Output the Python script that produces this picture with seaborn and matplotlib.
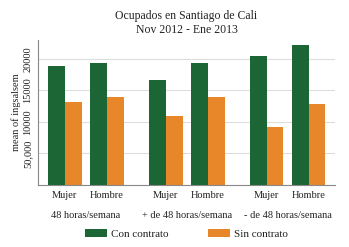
import seaborn as sns
import pandas as pd
import matplotlib.pyplot as plt

# Data
horas = ['48 horas/semana', '+ de 48 horas/semana', '- de 48 horas/semana']
sexo = ['Mujer', 'Hombre']
con_contrato = [18900, 19400, 16700, 19300, 20400, 22200]
sin_contrato = [13200, 14000, 11000, 13900, 9200, 12800]
ytick_vals = [5000, 10000, 15000, 20000]
ytick_labels = ['50,000', '10000', '15000', '20000']

# Layout: spacing inside a group is 1, groups start 2.4 apart
group_step = 2.4
pos = [g * group_step + s for g in range(len(horas)) for s in range(len(sexo))]
cats = [sx for h in horas for sx in sexo]

df = pd.DataFrame({
    'pos': pos * 2,
    'sexo': cats * 2,
    'valor': con_contrato + sin_contrato,
    'contrato': ['Con contrato'] * 6 + ['Sin contrato'] * 6,
})

MyFont = 'Liberation Serif'
colors = ['#1b6634', '#e8862a']

sns.set_style('white')
plt.rcParams['font.family'] = [MyFont]
plt.rcParams['text.color'] = '#222222'

fig, ax = plt.subplots(figsize=(3.49, 2.47), dpi=100)
fig.subplots_adjust(left=0.109, right=0.96, top=0.838, bottom=0.251)

sns.barplot(data=df, x='pos', y='valor', hue='contrato', palette=colors,
            native_scale=True, width=0.8, saturation=1, errorbar=None,
            linewidth=0, ax=ax)

# Axes
ax.set_xlim(-0.64, 6.43)
ax.set_ylim(0, 23000)
ax.set_yticks(ytick_vals)
ax.set_yticklabels(ytick_labels, rotation=90, va='center', fontsize=7.5)
ax.set_xticks(pos)
ax.set_xticklabels(cats, fontsize=7.5)
ax.tick_params(axis='x', length=0, pad=4, colors='#222222')
ax.tick_params(axis='y', length=3, width=0.6, color='#888888', pad=1,
               labelcolor='#222222')
ax.set_xlabel('')
ax.set_ylabel('mean of ingsalsem', fontsize=7.5, labelpad=2, color='#222222')
ax.yaxis.grid(True, color='#dddddd', linewidth=0.8)
ax.set_axisbelow(True)
for side in ['top', 'right']:
    ax.spines[side].set_visible(False)
for side in ['left', 'bottom']:
    ax.spines[side].set_color('#888888')
    ax.spines[side].set_linewidth(0.8)

# Group labels under the sex labels
for g, h in enumerate(horas):
    ax.text(g * group_step + 0.5, -0.18, h, transform=ax.get_xaxis_transform(),
            ha='center', va='top', fontsize=7.5)

ax.set_title('Ocupados en Santiago de Cali\nNov 2012 - Ene 2013', fontsize=8.5,
             linespacing=1.25, pad=5)

ax.legend(loc='upper center', bbox_to_anchor=(0.5, -0.235), ncol=2, frameon=False,
          fontsize=8, handlelength=2.0, handleheight=0.7, handletextpad=0.4,
          columnspacing=3.5)

plt.savefig('out.png', dpi=100)
